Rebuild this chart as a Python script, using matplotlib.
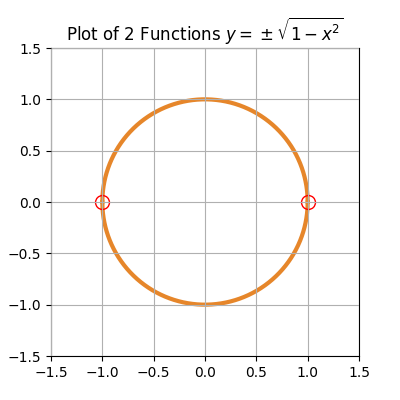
import numpy as np
import matplotlib
matplotlib.use('Agg')
from matplotlib import pyplot as plt

# x range of the two functions, endpoints marked
x = np.linspace(-1, 1, 2001)
y_top = np.sqrt(1 - x ** 2)
y_bottom = -np.sqrt(1 - x ** 2)
mark_x = [-1, 1]
mark_y = [0, 0]
ticks = [-1.5, -1.0, -0.5, 0.0, 0.5, 1.0, 1.5]

fig, ax = plt.subplots(figsize=(4, 4), dpi=100)
ax.plot(x, y_top, color='#e6862a', lw=3)
ax.plot(x, y_bottom, color='#e6862a', lw=3)
ax.plot(mark_x, mark_y, 'o', mfc='none', mec='red', ms=10)
ax.set_xlim(-1.5, 1.5)
ax.set_ylim(-1.5, 1.5)
ax.set_xticks(ticks)
ax.set_yticks(ticks)
ax.set_aspect('equal')
ax.set_axisbelow(False)
ax.grid(True)
ax.set_title(r'Plot of 2 Functions $y = \:\pm\:\sqrt{1-x^2}$')
fig.savefig('out.png')
